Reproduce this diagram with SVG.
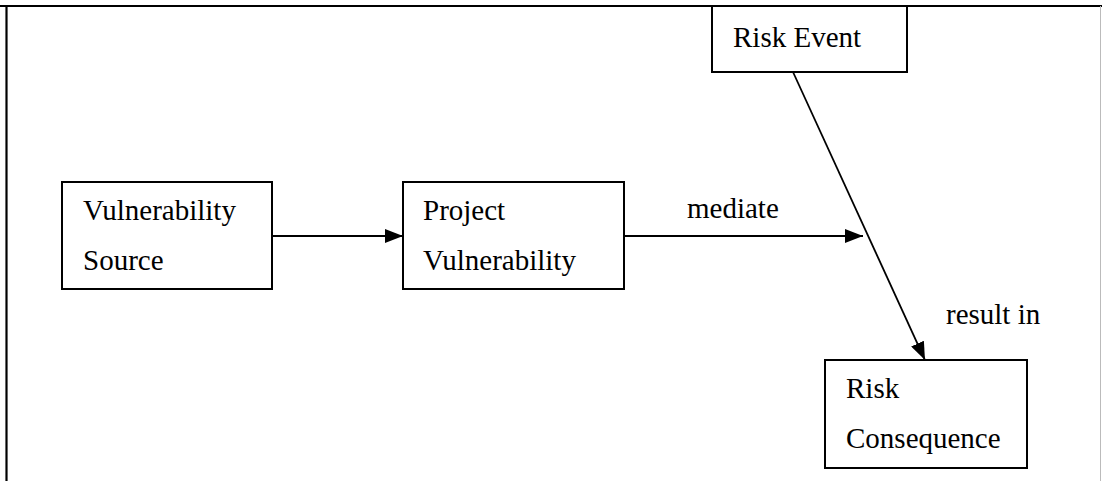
<svg xmlns="http://www.w3.org/2000/svg" width="1102" height="481" viewBox="0 0 1102 481">
  <style>
    .box { fill: #fff; stroke: #000; stroke-width: 2; }
    .lbl { font-family: "Liberation Serif", "Times New Roman", serif; font-size: 29px; fill: #000; }
    .edge { stroke: #000; stroke-width: 1.8; fill: none; marker-end: url(#arrow); }
  </style>
  <defs>
    <marker id="arrow" viewBox="0 0 18 14" refX="18" refY="7" markerWidth="18" markerHeight="14" markerUnits="userSpaceOnUse" orient="auto">
      <path d="M0,0 L18,7 L0,14 Z" fill="#000"/>
    </marker>
  </defs>
  <rect width="1102" height="481" fill="#fff"/>

  <!-- outer frame -->
  <g id="frame">
    <line x1="0" y1="6" x2="1102" y2="6" stroke="#000" stroke-width="2.2"/>
    <line x1="6.5" y1="6" x2="6.5" y2="481" stroke="#000" stroke-width="2.2"/>
    <line x1="1100.5" y1="6" x2="1100.5" y2="481" stroke="#bbb" stroke-width="1"/>
  </g>

  <!-- connectors -->
  <g id="connectors">
    <line class="edge" x1="272" y1="236" x2="403" y2="236"/>
    <line class="edge" x1="624" y1="236" x2="863" y2="236"/>
    <line class="edge" x1="793" y1="72" x2="925" y2="360"/>
    <text class="lbl" x="687" y="218">mediate</text>
    <text class="lbl" x="946" y="324">result in</text>
  </g>

  <g id="vulnerability-source">
    <rect class="box" x="62" y="182" width="210" height="107"/>
    <text class="lbl" x="83" y="220">Vulnerability</text>
    <text class="lbl" x="83" y="270">Source</text>
  </g>

  <g id="project-vulnerability">
    <rect class="box" x="403" y="182" width="221" height="107"/>
    <text class="lbl" x="423" y="220">Project</text>
    <text class="lbl" x="423" y="270">Vulnerability</text>
  </g>

  <g id="risk-event">
    <rect class="box" x="712" y="6" width="195" height="66"/>
    <text class="lbl" x="733" y="47">Risk Event</text>
  </g>

  <g id="risk-consequence">
    <rect class="box" x="825" y="360" width="202" height="108"/>
    <text class="lbl" x="846" y="398">Risk</text>
    <text class="lbl" x="846" y="448">Consequence</text>
  </g>
</svg>
